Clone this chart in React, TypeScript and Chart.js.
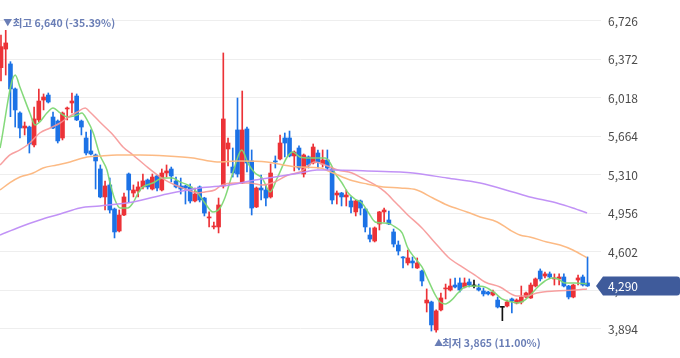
import { useEffect, useRef } from "react";
import { Chart, registerables } from "chart.js";
Chart.register(...registerables);

// OHLC per trading day (left to right)
const opens = [6297,6468,6331,6101,5880,5742,5751,5586,5816,5999,
6045,5843,5806,5650,5917,5972,6036,5806,5650,5531,
5494,5365,5108,5218,4997,4795,4942,5319,5144,5163,
5200,5264,5181,5301,5172,5328,5365,5255,5209,5209,
5200,5071,5200,5098,4915,4832,4832,5209,5549,5383,
5724,5236,5733,5439,5016,5190,5172,5108,5439,5457,
5650,5650,5485,5558,5319,5476,5420,5512,5411,5448,
5365,5126,5144,5108,5071,4970,5071,4997,4758,4703,
4859,4970,4896,4786,4666,4556,4501,4519,4455,4427,
4133,4142,3885,4069,4262,4252,4298,4317,4280,4326,
4289,4271,4243,4234,4206,4160,4093,4105,4170,4133,
4142,4188,4179,4289,4427,4381,4400,4354,4354,4372,
4289,4188,4344,4372,4317];
const highs = [6597,6640,6352,6110,5890,5797,5760,5935,6101,6055,
6064,5889,5816,5889,5935,6064,6055,5815,5705,5724,
5503,5402,5255,5282,5006,4988,5144,5328,5218,5246,
5319,5273,5319,5310,5365,5402,5383,5291,5282,5215,
5227,5190,5209,5105,4970,4878,5098,6432,5650,5558,
6018,6082,5751,5540,5200,5310,5218,5411,5485,5678,
5696,5714,5531,5577,5503,5485,5595,5540,5540,5540,
5374,5163,5150,5172,5108,5080,5080,5006,4823,4832,
4975,5006,4979,4813,4703,4560,4620,4556,4547,4436,
4262,4150,4069,4225,4307,4354,4363,4363,4363,4354,
4344,4307,4271,4240,4252,4188,4100,4160,4179,4170,
4289,4234,4317,4363,4446,4418,4418,4400,4400,4400,
4295,4305,4390,4390,4556];
const lows = [6174,6229,5846,5751,5650,5678,5512,5567,5797,5908,
5972,5735,5604,5632,5816,5880,5810,5678,5494,5494,
5181,5100,4988,4960,4731,4786,4935,5062,5108,5108,
5181,5181,5172,5163,5163,5291,5246,5190,5135,5043,
5052,5062,5062,4933,4832,4813,4777,5190,5393,5291,
5291,5230,5337,4942,5010,5080,5025,5098,5374,5448,
5476,5476,5347,5356,5291,5374,5411,5374,5383,5356,
5043,5043,5025,5025,4960,4933,4942,4786,4694,4694,
4804,4878,4852,4648,4574,4455,4482,4455,4450,4289,
4050,3875,3865,4060,4170,4243,4271,4234,4271,4280,
4271,4243,4197,4206,4197,4087,3970,4096,4041,4124,
4124,4180,4175,4280,4335,4363,4363,4298,4298,4280,
4170,4180,4298,4289,4285];
const closes = [6490,6524,6101,5908,5742,5760,5595,5825,5990,6027,
5981,5742,5623,5880,5926,5990,5816,5751,5512,5503,
5439,5108,5209,4988,4786,4942,5108,5172,5172,5200,
5255,5200,5291,5190,5328,5347,5301,5200,5181,5190,
5071,5135,5080,4960,4924,4841,5034,5825,5604,5328,
5319,5724,5420,5006,5190,5172,5098,5328,5430,5604,
5604,5485,5521,5374,5494,5402,5567,5430,5448,5374,
5080,5144,5108,5126,5016,5071,5006,4832,4721,4823,
4970,4988,4859,4675,4611,4547,4547,4501,4501,4335,
4160,3931,4060,4179,4271,4289,4280,4252,4317,4298,
4289,4252,4216,4216,4234,4096,4093,4142,4151,4160,
4188,4225,4298,4354,4354,4400,4372,4363,4372,4289,
4188,4298,4363,4298,4290];

// moving averages: [day index, value]
const ma5 = [[-0.2,5558],[3,6229],[4,6119],[6.1,5880],[7.2,5770],[8.2,5797],[9.7,5880],[11,5926],[12.5,5880],[14,5843],[16.1,5862],[17.1,5880],[18.2,5816],[19.5,5696],[20.9,5494],[22.4,5356],[23,5246],[24.1,5080],[25.2,5007],[26.8,5007],[27.9,5053],[29,5144],[30,5200],[32.1,5236],[34.2,5282],[36.2,5282],[37.8,5246],[39.5,5218],[41.4,5154],[43.1,5053],[44.8,4970],[46.3,5007],[47.4,5108],[49,5328],[50.9,5540],[52.2,5420],[53.7,5328],[55.2,5282],[56.9,5154],[58.4,5282],[60.5,5475],[61.7,5521],[63.2,5475],[65.3,5466],[68.5,5466],[69.6,5420],[70.6,5328],[72.1,5236],[73.4,5144],[74.8,5089],[76.3,5053],[77.6,4970],[79.1,4878],[80.5,4869],[82.2,4860],[83.3,4832],[84.8,4777],[86,4639],[87.5,4547],[89,4464],[90.3,4345],[91.8,4207],[92.8,4142],[93.9,4124],[95.3,4161],[96.6,4225],[98.1,4280],[100.2,4289],[102.3,4280],[104.4,4225],[105.9,4170],[108,4142],[109.3,4133],[110.8,4161],[112.3,4225],[113.5,4280],[115,4335],[116.5,4363],[117.8,4354],[119.2,4317],[121.4,4317],[123.9,4307]];
const ma20 = [[-0.2,5402],[1.9,5494],[4,5540],[6.1,5604],[8.2,5696],[10.4,5742],[12.5,5788],[14,5834],[16.1,5889],[17.8,5926],[18.8,5889],[20.9,5797],[23.7,5678],[25.8,5567],[27.9,5494],[30.4,5402],[34,5282],[36.8,5218],[39.5,5172],[41.6,5144],[43.1,5154],[45.2,5172],[46.7,5218],[49.5,5236],[52.6,5236],[55.2,5218],[57.9,5246],[60.7,5310],[63.2,5337],[66.4,5429],[68.5,5402],[71.2,5356],[74.2,5328],[76.3,5282],[79.1,5218],[81.2,5154],[83.3,5062],[86,4942],[89,4823],[91.8,4685],[94.5,4556],[97.5,4464],[100.2,4390],[102.3,4326],[105.5,4280],[109.1,4197],[111.2,4197],[113.3,4225],[117.1,4243],[121.4,4252],[123.9,4262]];
const ma60 = [[-0.2,5172],[1.9,5239],[4,5291],[6.8,5328],[8.9,5374],[11.8,5402],[14.6,5430],[18.2,5475],[20.9,5485],[24.5,5494],[29.4,5494],[35.1,5485],[40.6,5466],[45.7,5430],[50.5,5439],[56.2,5430],[59.6,5402],[63.2,5383],[67.4,5374],[70.2,5328],[73.8,5264],[77.4,5227],[80.8,5200],[84.4,5190],[87.9,5172],[91.3,5098],[94.3,5034],[98.5,4970],[101.3,4924],[104.9,4878],[107.6,4804],[109.7,4758],[111.8,4740],[115.4,4694],[118.2,4666],[120.9,4620],[123.9,4547]];
const ma120 = [[-0.2,4758],[4,4832],[8.2,4896],[12.5,4951],[16.7,5007],[20.9,5025],[27.9,5062],[35.1,5135],[42.1,5190],[48.4,5218],[53.7,5264],[57.9,5291],[63.2,5328],[66.8,5356],[70.2,5356],[77.4,5347],[84.4,5337],[87.1,5328],[94.3,5282],[101.3,5236],[108.2,5154],[111.8,5108],[117.5,5053],[120.9,5007],[123.9,4960]];

const yTicks = [3894, 4248, 4602, 4956, 5310, 5664, 6018, 6372, 6726];

const UP = "#ec3237";
const DOWN = "#1c72e6";
const FLAT = "#111111";
const FONT = "'Noto Sans CJK KR', 'Noto Sans', sans-serif";

const fmt = (v: number) => v.toLocaleString("en-US");

export default function App() {
  const ref = useRef<HTMLCanvasElement>(null);
  useEffect(() => {
    document.body.style.margin = "0";
    const idx = opens.map((_, i) => i);
    const colors = idx.map((i) => (closes[i] > opens[i] ? UP : closes[i] < opens[i] ? DOWN : FLAT));
    const last = closes[closes.length - 1];
    let maxI = 0, minI = 0;
    idx.forEach((i) => {
      if (highs[i] > highs[maxI]) maxI = i;
      if (lows[i] < lows[minI]) minI = i;
    });

    const annot = {
      id: "annot",
      afterDatasetsDraw(chart: any) {
        const { ctx, scales } = chart;
        const x = scales.x, y = scales.y;
        ctx.save();
        ctx.fillStyle = "#6a7eb6";
        ctx.textBaseline = "middle";
        ctx.textAlign = "left";
        // max label
        const hx = x.getPixelForValue(maxI);
        const hy = y.getPixelForValue(highs[maxI]) - 7.5;
        const pctH = (((last - highs[maxI]) / highs[maxI]) * 100).toFixed(2);
        ctx.font = `9px ${FONT}`;
        ctx.fillText("▼", hx - 2.5, hy);
        ctx.font = `bold 10.5px ${FONT}`;
        ctx.fillText(`최고 ${fmt(highs[maxI])} (${pctH}%)`, hx + 7, hy);
        // min label
        const lx = x.getPixelForValue(minI);
        const ly = y.getPixelForValue(lows[minI]) + 10.5;
        const pctL = (((last - lows[minI]) / lows[minI]) * 100).toFixed(2);
        ctx.font = `9px ${FONT}`;
        ctx.fillText("▲", lx - 2, ly);
        ctx.font = `bold 10.5px ${FONT}`;
        ctx.fillText(`최저 ${fmt(lows[minI])} (${pctL}%)`, lx + 6, ly);
        ctx.restore();
      },
      afterDraw(chart: any) {
        const { ctx, scales, width } = chart;
        const py = scales.y.getPixelForValue(last);
        const tipX = scales.x.right - 5;
        const h = 9.5;
        const r = 3;
        ctx.save();
        ctx.fillStyle = "#3f5b9b";
        ctx.beginPath();
        ctx.moveTo(tipX, py);
        ctx.lineTo(tipX + 7, py - h);
        ctx.lineTo(width - r, py - h);
        ctx.quadraticCurveTo(width, py - h, width, py - h + r);
        ctx.lineTo(width, py + h - r);
        ctx.quadraticCurveTo(width, py + h, width - r, py + h);
        ctx.lineTo(tipX + 7, py + h);
        ctx.closePath();
        ctx.fill();
        ctx.fillStyle = "#ffffff";
        ctx.font = `12px ${FONT}`;
        ctx.textBaseline = "middle";
        ctx.textAlign = "left";
        ctx.fillText(fmt(last), scales.x.right + 7, py + 0.5);
        ctx.restore();
      },
    };

    const line = (data: number[][], color: string) => ({
      type: "line" as const,
      data: data.map(([x, y]) => ({ x, y })),
      borderColor: color,
      borderWidth: 1.5,
      pointRadius: 0,
      cubicInterpolationMode: "monotone" as const,
      order: 0,
    });

    const chart = new Chart(ref.current as HTMLCanvasElement, {
      type: "bar",
      data: {
        datasets: [
          line(ma120, "rgba(190,140,245,0.95)"),
          line(ma60, "rgba(252,182,125,0.95)"),
          line(ma20, "rgba(246,150,150,0.9)"),
          line(ma5, "rgba(125,215,115,0.95)"),
          {
            type: "bar",
            data: idx.map((i) => ({ x: i, y: [opens[i], closes[i]] })),
            backgroundColor: colors,
            barThickness: 4,
            minBarLength: 1,
            grouped: false,
            order: 5,
          } as any,
          {
            type: "bar",
            data: idx.map((i) => ({ x: i, y: [lows[i], highs[i]] })),
            backgroundColor: colors,
            barThickness: 1,
            grouped: false,
            order: 6,
          } as any,
        ],
      },
      options: {
        animation: false,
        responsive: false,
        maintainAspectRatio: false,
        layout: { padding: 0 },
        plugins: { legend: { display: false }, tooltip: { enabled: false } },
        scales: {
          x: { type: "linear", display: false, min: -0.21, max: 126.85, offset: false },
          y: {
            position: "right",
            min: 3627,
            max: 6919,
            border: { display: false },
            grid: { color: "#eeeeee", drawTicks: false },
            ticks: {
              padding: 7,
              color: "#4a4a4a",
              font: { size: 12, family: FONT },
              callback: (v: any) => fmt(Number(v)),
            },
            afterBuildTicks: (s: any) => {
              s.ticks = yTicks.map((v) => ({ value: v }));
            },
            afterFit: (s: any) => {
              s.width = 79;
              s.paddingTop = 0;
              s.paddingBottom = 0;
            },
          },
        },
      } as any,
      plugins: [annot],
    });
    return () => chart.destroy();
  }, []);
  return (
    <div style={{ position: "fixed", left: 0, top: 0, width: 680, height: 358 }}>
      <canvas ref={ref} width={680} height={358} style={{ width: 680, height: 358, display: "block" }} />
    </div>
  );
}
